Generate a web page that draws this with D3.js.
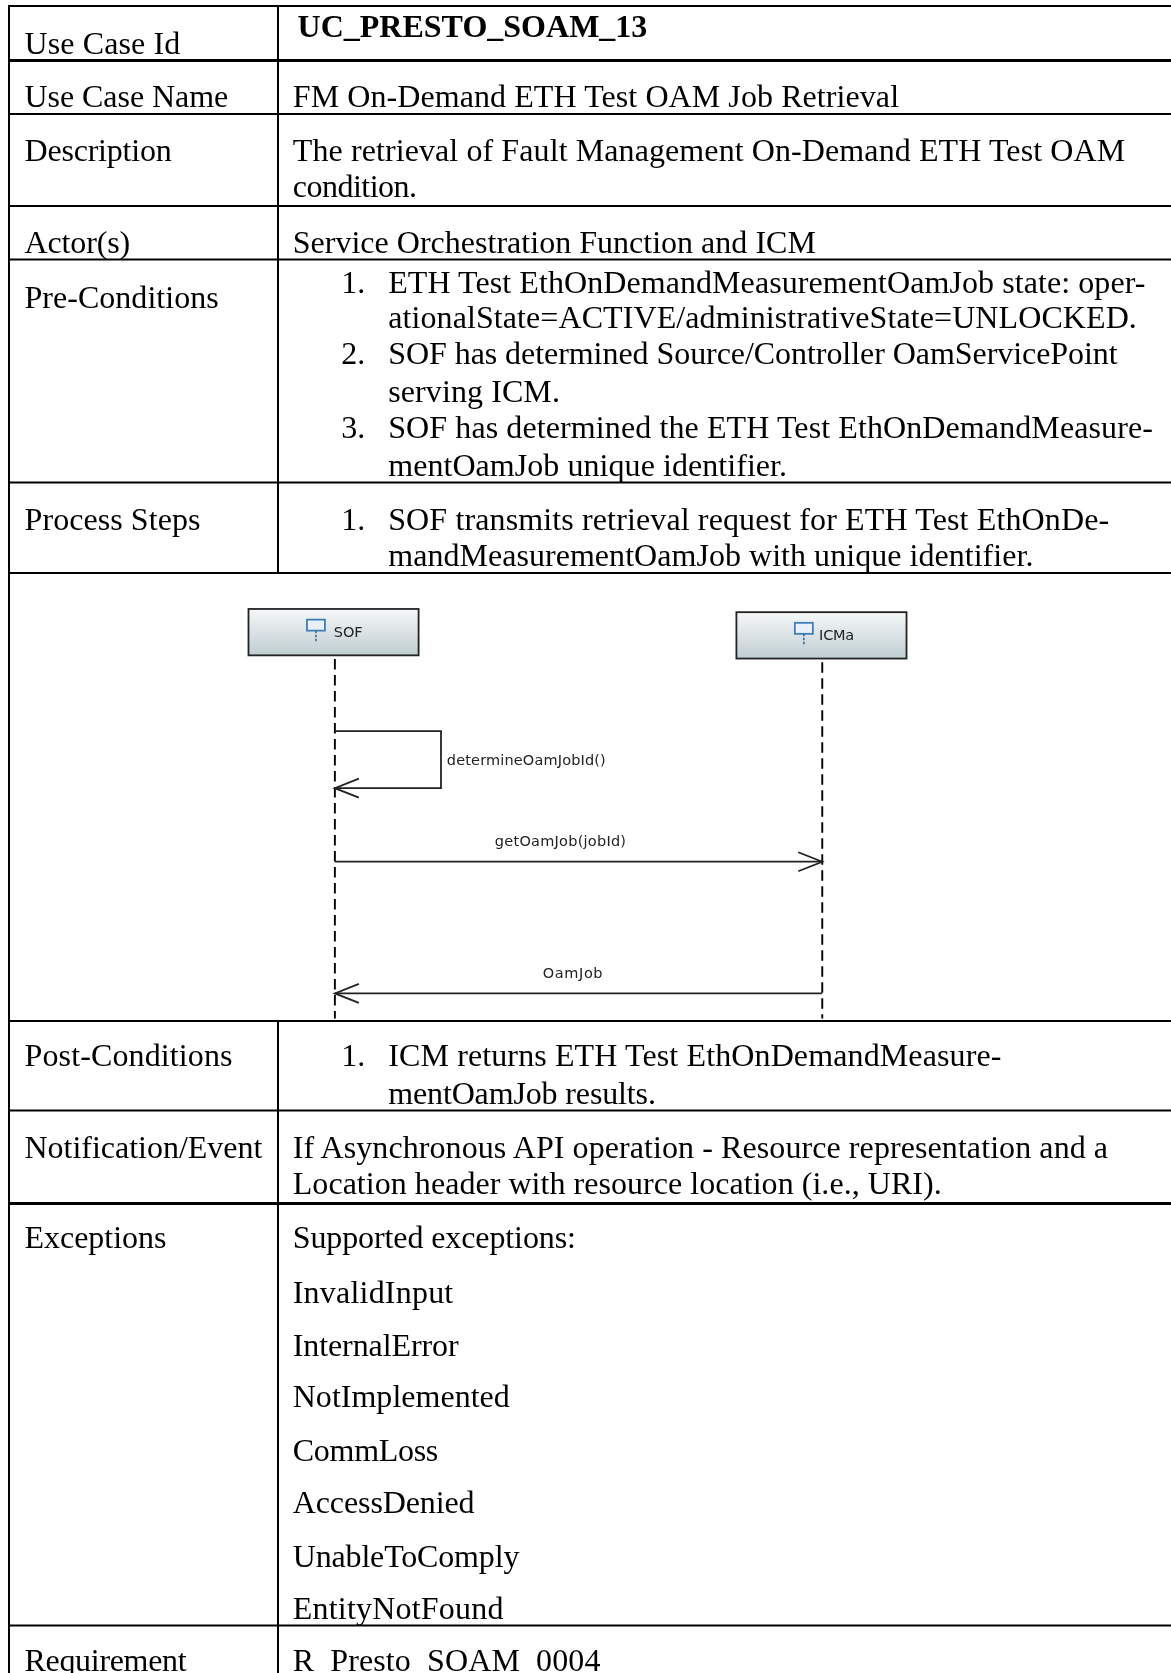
<!DOCTYPE html>
<html><head><meta charset="utf-8">
<script src="https://cdn.jsdelivr.net/npm/d3@7"></script>
<style>html,body{margin:0;padding:0;background:#fff}svg{display:block}</style></head>
<body><div id="c"></div>
<script>
// ---- content ----
const rowLabels = ["Use Case Id","Use Case Name","Description","Actor(s)","Pre-Conditions","Process Steps","Post-Conditions","Notification/Event","Exceptions","Requirement"];
const bodyLines = [
 "UC_PRESTO_SOAM_13",
 "FM On-Demand ETH Test OAM Job Retrieval",
 "The retrieval of Fault Management On-Demand ETH Test OAM",
 "condition.",
 "Service Orchestration Function and ICM",
 "ETH Test EthOnDemandMeasurementOamJob state: oper-",
 "ationalState=ACTIVE/administrativeState=UNLOCKED.",
 "SOF has determined Source/Controller OamServicePoint",
 "serving ICM.",
 "SOF has determined the ETH Test EthOnDemandMeasure-",
 "mentOamJob unique identifier.",
 "SOF transmits retrieval request for ETH Test EthOnDe-",
 "mandMeasurementOamJob with unique identifier.",
 "ICM returns ETH Test EthOnDemandMeasure-",
 "mentOamJob results.",
 "If Asynchronous API operation - Resource representation and a",
 "Location header with resource location (i.e., URI).",
 "Supported exceptions:","InvalidInput","InternalError","NotImplemented","CommLoss","AccessDenied","UnableToComply","EntityNotFound",
 "R_Presto_SOAM_0004"
];
const listNumbers = ["1.","2.","3.","1.","1."];
const lifelines = ["SOF","ICMa"];
const messages = ["determineOamJobId()","getOamJob(jobId)","OamJob"];

// ---- layout (in reference pixels of a 1098-wide rendering) ----
const labelBase = [50.2,100.5,151,237,289,497,1000,1086,1170.5,1567];
const bodyBase = [35,100.5,151,185,237,275,308,341,377,411,446,497,531,1000,1035.5,1086,1120,1170.5,1221.5,1271,1319,1370,1418.5,1469,1518,1567];
const bodyX = [279,274.5,274.5,274.5,274.5,364,364,364,364,364,364,364,364,364,364,274.5,274.5,274.5,274.5,274.5,274.5,274.5,274.5,274.5,274.5,274.5];
const bodyEnd = [607,843,1055,391,765,1074,1066,1048,525,1081,738,1040,969,939,615,1039,883,540,425,430,478,411,445,487,472,563];
const labelEnd = [169,214,161,122,205,188,218,246,156,175];
const numBase = [275,341,411,497,1000];
// rules, in full-size pixels
const ruleY = [6,60.5,114,206,259.5,482.5,573,1021,1110.5,1203.5,1625.5];
const ruleW = [2,3,2,2,2,2,2,2,2,3,2];
const W = 1171, H = 1673, leftX = 9, divX = 278;
const s = d3.scaleLinear().domain([0,1098]).range([0,W]);

const svg = d3.select("#c").append("svg").attr("width",W).attr("height",H).attr("viewBox",`0 0 ${W} ${H}`);
const defs = svg.append("defs");
const g = defs.append("linearGradient").attr("id","hd").attr("x1",0).attr("x2",0).attr("y1",0).attr("y2",1);
g.append("stop").attr("offset","0").attr("stop-color","#f6f8f8");
g.append("stop").attr("offset","1").attr("stop-color","#bfcdd2");
defs.append("filter").attr("id","soft").append("feGaussianBlur").attr("stdDeviation",0.5);
defs.append("filter").attr("id","softText").append("feGaussianBlur").attr("stdDeviation",0.3);

const serif = "'Liberation Serif','Times New Roman',serif";
const fs = 32;

// rules
svg.selectAll("line.rule").data(ruleY).join("line").attr("class","rule")
  .attr("x1",leftX-1).attr("x2",W).attr("y1",d=>d).attr("y2",d=>d)
  .attr("stroke","#000").attr("stroke-width",(d,i)=>ruleW[i]);
svg.append("line").attr("x1",leftX).attr("x2",leftX).attr("y1",5).attr("y2",H).attr("stroke","#000").attr("stroke-width",2);
// column divider, interrupted by the diagram row
[[5,573],[1021,H]].forEach(([a,b])=>{
  svg.append("line").attr("x1",divX).attr("x2",divX).attr("y1",a).attr("y2",b).attr("stroke","#000").attr("stroke-width",2);
});

const txt = svg.append("g").attr("filter","url(#softText)");
function put(sel){ return sel.attr("font-family",serif).attr("font-size",fs).attr("fill","#000")
   .attr("lengthAdjust","spacing"); }
put(txt.selectAll("text.lab").data(rowLabels).join("text").attr("class","lab")
  .attr("x",s(23)).attr("y",(d,i)=>s(labelBase[i]))
  .attr("textLength",(d,i)=>s(labelEnd[i]-23)).text(d=>d));
put(txt.selectAll("text.body").data(bodyLines).join("text").attr("class","body")
  .attr("x",(d,i)=>s(bodyX[i])).attr("y",(d,i)=>s(bodyBase[i]))
  .attr("textLength",(d,i)=>s(bodyEnd[i]-bodyX[i]))
  .attr("font-weight",(d,i)=>i===0?"bold":null).text(d=>d));
put(txt.selectAll("text.num").data(listNumbers).join("text").attr("class","num")
  .attr("x",s(320)).attr("y",(d,i)=>s(numBase[i])).text(d=>d));

// ---- sequence diagram ----
const dia = svg.append("g").attr("filter","url(#soft)");
const boxX = [233,690.5], boxY = [571,574], boxW = 159.5, boxH = 43.5;
const nameX = [313,768], nameEnd = [340,801];
const lifeX = d3.scaleOrdinal().domain(lifelines).range([314,771]);
const msgY = d3.scaleOrdinal().domain(messages).range([739,808,931.5]);
const diaFont = "'DejaVu Sans',sans-serif";
lifelines.forEach((n,i)=>{
  dia.append("rect").attr("x",s(boxX[i])).attr("y",s(boxY[i])).attr("width",s(boxW)).attr("height",s(boxH))
    .attr("fill","url(#hd)").attr("stroke","#222").attr("stroke-width",1.8);
  const ix = s(boxX[i]+boxW/2-16.5), iy = s(boxY[i]+10);
  dia.append("rect").attr("x",ix-9).attr("y",iy).attr("width",18).attr("height",11).attr("fill","#e8f1fa").attr("stroke","#3f7fb5").attr("stroke-width",1.8);
  dia.append("line").attr("x1",ix).attr("x2",ix).attr("y1",iy+11).attr("y2",iy+23).attr("stroke","#2a6496").attr("stroke-width",1.5).attr("stroke-dasharray","2.5 1.5");
  dia.append("text").attr("x",s(nameX[i])).attr("y",s(boxY[i]+26.5)).attr("font-family",diaFont).attr("font-size",14.5).attr("fill","#222")
    .attr("textLength",s(nameEnd[i]-nameX[i])).text(n);
  dia.append("line").attr("x1",s(lifeX(n))).attr("x2",s(lifeX(n))).attr("y1",s(boxY[i]+47)).attr("y2",s(955))
    .attr("stroke","#000").attr("stroke-width",1.9).attr("stroke-dasharray","10.5 5.5");
});
const L = s(lifeX("SOF")), R = s(lifeX("ICMa"));
const line = d3.line();
function arrowHead(x,y,dir){
  dia.append("path").attr("d",line([[x+dir*24,y-9.5],[x,y],[x+dir*24,y+9.5]])).attr("fill","none").attr("stroke","#222").attr("stroke-width",1.8);
}
const selfTop = s(685.5), selfRight = s(413.5);
dia.append("path").attr("d",line([[L,selfTop],[selfRight,selfTop],[selfRight,s(msgY(messages[0]))],[L,s(msgY(messages[0]))]])).attr("fill","none").attr("stroke","#222").attr("stroke-width",1.8);
arrowHead(L,s(msgY(messages[0])),1);
[1,2].forEach(i=>dia.append("line").attr("x1",L).attr("x2",R).attr("y1",s(msgY(messages[i]))).attr("y2",s(msgY(messages[i]))).attr("stroke","#222").attr("stroke-width",1.8));
arrowHead(R,s(msgY(messages[1])),-1);
arrowHead(L,s(msgY(messages[2])),1);
const msgX=[419,464,509], msgEnd=[568,587,565], msgB=[717.5,793.5,917.5];
messages.forEach((m,i)=>dia.append("text").attr("x",s(msgX[i])).attr("y",s(msgB[i])).attr("font-family",diaFont).attr("font-size",14.5).attr("fill","#222")
  .attr("textLength",s(msgEnd[i]-msgX[i])).text(m));
</script></body></html>
